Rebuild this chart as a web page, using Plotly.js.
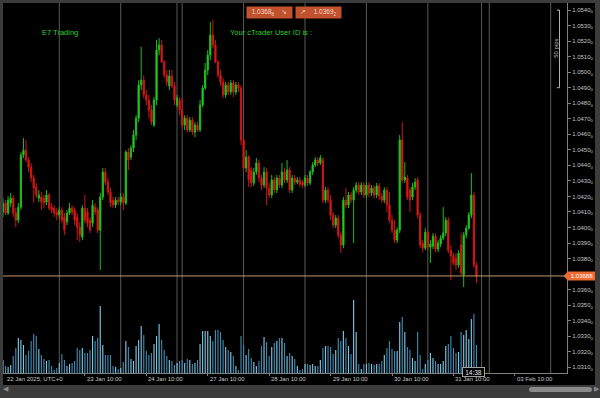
<!DOCTYPE html>
<html><head><meta charset="utf-8">
<script src="https://cdn.plot.ly/plotly-3.0.1.min.js"></script>
<style>
html,body{margin:0;padding:0;background:#3c3c3c;width:600px;height:398px;overflow:hidden;font-family:"Liberation Sans",Arial,sans-serif;}
#frame{position:absolute;left:3px;top:3px;width:592px;height:382px;background:#000;}
#chart{position:absolute;left:0;top:0;width:592px;height:382px;}
#scroll{position:absolute;left:529px;top:387px;width:63px;height:5px;background:#8a8a8a;border-radius:3px;}
.arr{position:absolute;top:385px;color:#8a8a8a;font-size:7px;}
</style></head><body>
<div id="frame"><div id="chart"></div></div>
<div id="scroll"></div>
<div class="arr" style="left:3px;">&#9664;</div>
<div class="arr" style="left:594px;">&#9654;</div>
<script>
// EURUSD-style hourly bars, 22 Jan 02:00 -> 31 Jan (weekend removed); x = trading-hour index from 22 Jan 00:00
const open = [
 1.04099,1.04157,1.04093,1.04157,1.04189,1.04093,1.04047,1.04131,1.04466,1.04498,1.04434,1.04389,1.04318,1.04260,1.04189,1.04196,1.04189,1.04164,1.04209,1.04131,1.04125,1.04099,
 1.04080,1.04112,1.04067,1.04035,1.04093,1.04125,1.04112,1.04067,1.04002,1.03938,1.04125,1.04099,1.04047,1.04028,1.04131,1.04112,1.03983,1.04196,1.04357,1.04292,1.04228,1.04176,1.04144,1.04176,
 1.04164,1.04196,1.04157,1.04485,1.04453,1.04511,1.04595,1.04704,1.04917,1.04949,1.04853,1.04820,1.04756,1.04659,1.04820,1.05142,1.05175,1.05065,1.04981,1.04911,1.04975,1.04911,
 1.04788,1.04820,1.04756,1.04659,1.04704,1.04627,1.04691,1.04614,1.04659,1.04627,1.04788,1.04898,1.05014,1.05110,1.05239,1.05175,1.05065,1.04981,1.04936,1.04853,1.04917,1.04872,1.04930,1.04872,1.04917,1.04898,
 1.04563,1.04383,1.04453,1.04370,1.04286,1.04357,1.04415,1.04318,1.04273,1.04357,1.04254,1.04209,1.04305,1.04241,1.04318,1.04273,1.04357,1.04305,1.04370,1.04241,1.04318,1.04292,1.04305,1.04292,
 1.04273,1.04318,1.04286,1.04357,1.04402,1.04434,1.04415,1.04434,1.04176,1.04241,1.04176,1.04080,1.04015,1.04060,1.03951,1.03887,1.04176,1.04144,1.04209,1.04176,1.04241,1.04273,1.04228,1.04273,
 1.04209,1.04273,1.04222,1.04254,1.04209,1.04267,1.04202,1.04176,1.04241,1.04144,1.04047,1.03983,1.03919,1.03983,1.04563,1.04305,1.04318,1.04241,1.04196,1.04260,1.04305,1.04080,1.03899,1.03867,
 1.03970,1.03874,1.03880,1.03944,1.03861,1.03893,1.03932,1.03964,1.04047,1.03854,1.03816,1.03803,1.03758,1.03887,1.03694,1.03951,1.03996,1.04080,1.04209,1.03758
];
const high = [
 1.04189,1.04176,1.04202,1.04222,1.04209,1.04125,1.04157,1.04485,1.04575,1.04563,1.04453,1.04415,1.04338,1.04286,1.04241,1.04228,1.04209,1.04241,1.04222,1.04157,1.04144,1.04125,
 1.04131,1.04131,1.04093,1.04112,1.04157,1.04144,1.04131,1.04093,1.04035,1.04144,1.04209,1.04125,1.04067,1.04176,1.04157,1.04131,1.04222,1.04383,1.04383,1.04318,1.04254,1.04196,1.04196,1.04196,
 1.04222,1.04222,1.04498,1.04511,1.04530,1.04627,1.04723,1.04949,1.05162,1.04981,1.04885,1.04853,1.04788,1.04840,1.05207,1.05220,1.05207,1.05078,1.05014,1.05014,1.05014,1.04936,
 1.04853,1.04840,1.04833,1.04723,1.04723,1.04711,1.04711,1.04678,1.04678,1.04820,1.04917,1.05059,1.05142,1.05323,1.05336,1.05207,1.05078,1.05014,1.04962,1.04936,1.04936,1.04949,1.04949,1.04936,1.04936,1.04917,
 1.04582,1.04498,1.04466,1.04389,1.04383,1.04447,1.04434,1.04338,1.04389,1.04383,1.04286,1.04338,1.04325,1.04338,1.04338,1.04415,1.04383,1.04434,1.04389,1.04338,1.04338,1.04325,1.04325,1.04305,
 1.04338,1.04338,1.04370,1.04421,1.04453,1.04453,1.04466,1.04453,1.04260,1.04260,1.04209,1.04099,1.04080,1.04080,1.03970,1.04196,1.04254,1.04228,1.04228,1.04260,1.04292,1.04292,1.04292,1.04292,
 1.04292,1.04292,1.04273,1.04273,1.04286,1.04286,1.04222,1.04260,1.04260,1.04228,1.04080,1.04047,1.04002,1.04595,1.04678,1.04421,1.04338,1.04260,1.04286,1.04318,1.04325,1.04099,1.03919,1.03996,
 1.03983,1.03919,1.03964,1.03964,1.03919,1.03951,1.04131,1.04067,1.04067,1.03887,1.03835,1.03835,1.03854,1.03964,1.03970,1.04015,1.04099,1.04350,1.04228,1.03777
];
const low = [
 1.04067,1.04080,1.04080,1.04131,1.04067,1.04002,1.04028,1.04112,1.04447,1.04421,1.04357,1.04292,1.04157,1.04189,1.04164,1.04112,1.04125,1.04144,1.04112,1.04093,1.04067,1.04047,
 1.04060,1.04028,1.03951,1.04015,1.04080,1.04080,1.04015,1.03919,1.03906,1.03919,1.04028,1.04002,1.03964,1.04002,1.04080,1.03964,1.03726,1.04176,1.04273,1.04209,1.04131,1.04125,1.04125,1.04144,
 1.04144,1.04112,1.04144,1.04370,1.04434,1.04485,1.04563,1.04678,1.04885,1.04833,1.04788,1.04704,1.04659,1.04646,1.04788,1.05110,1.05059,1.04962,1.04911,1.04885,1.04898,1.04788,
 1.04775,1.04723,1.04646,1.04627,1.04614,1.04614,1.04595,1.04582,1.04614,1.04614,1.04775,1.04885,1.04981,1.05078,1.05155,1.05059,1.04962,1.04911,1.04833,1.04833,1.04853,1.04853,1.04840,1.04853,1.04872,1.04530,
 1.04357,1.04357,1.04260,1.04260,1.04267,1.04338,1.04292,1.04241,1.04254,1.04144,1.04189,1.04189,1.04222,1.04222,1.04254,1.04254,1.04286,1.04286,1.04222,1.04222,1.04273,1.04279,1.04260,1.04254,
 1.04260,1.04267,1.04273,1.04338,1.04389,1.04395,1.04402,1.04157,1.04157,1.04157,1.04047,1.03996,1.03996,1.03932,1.03835,1.03867,1.04125,1.04125,1.04157,1.03899,1.04222,1.04209,1.04209,1.04189,
 1.04189,1.04196,1.04202,1.04189,1.04189,1.04176,1.04157,1.04157,1.04099,1.04028,1.03964,1.03899,1.03899,1.03964,1.04286,1.04286,1.04176,1.04099,1.04176,1.04241,1.04060,1.03867,1.03841,1.03854,
 1.03854,1.03771,1.03861,1.03841,1.03841,1.03874,1.03919,1.03944,1.03835,1.03661,1.03758,1.03726,1.03739,1.03694,1.03616,1.03932,1.03983,1.04060,1.03739,1.03642
];
const close = [
 1.04157,1.04093,1.04176,1.04189,1.04093,1.04047,1.04131,1.04466,1.04498,1.04434,1.04389,1.04318,1.04254,1.04209,1.04209,1.04164,1.04157,1.04209,1.04125,1.04112,1.04093,1.04080,
 1.04112,1.04047,1.03983,1.04093,1.04125,1.04099,1.04047,1.04002,1.03951,1.04125,1.04047,1.04028,1.03983,1.04144,1.04099,1.03983,1.04196,1.04357,1.04292,1.04228,1.04157,1.04144,1.04176,1.04164,
 1.04196,1.04157,1.04485,1.04434,1.04511,1.04595,1.04704,1.04917,1.04949,1.04853,1.04820,1.04756,1.04678,1.04820,1.05142,1.05175,1.05065,1.04981,1.04936,1.04975,1.04911,1.04820,
 1.04833,1.04756,1.04659,1.04704,1.04627,1.04691,1.04614,1.04659,1.04627,1.04788,1.04898,1.05014,1.05110,1.05239,1.05175,1.05065,1.04981,1.04936,1.04853,1.04917,1.04872,1.04930,1.04872,1.04917,1.04898,1.04563,
 1.04383,1.04453,1.04305,1.04286,1.04357,1.04415,1.04318,1.04273,1.04357,1.04254,1.04209,1.04305,1.04241,1.04318,1.04273,1.04357,1.04305,1.04370,1.04241,1.04318,1.04292,1.04305,1.04279,1.04273,
 1.04318,1.04286,1.04357,1.04402,1.04434,1.04415,1.04447,1.04176,1.04241,1.04176,1.04080,1.04015,1.04060,1.03951,1.03887,1.04176,1.04144,1.04209,1.04176,1.04241,1.04273,1.04228,1.04273,1.04209,
 1.04273,1.04222,1.04254,1.04209,1.04267,1.04202,1.04176,1.04241,1.04144,1.04047,1.03983,1.03919,1.03983,1.04563,1.04305,1.04325,1.04196,1.04176,1.04260,1.04292,1.04080,1.03887,1.03867,1.03970,
 1.03874,1.03893,1.03944,1.03861,1.03899,1.03932,1.03964,1.04047,1.03854,1.03816,1.03771,1.03758,1.03835,1.03706,1.03951,1.03996,1.04080,1.04209,1.03758,1.03688
];
const volume = [
 13,7,6,8,17,25,35,33,28,18,22,32,39,37,24,18,14,12,13,7,3,5,
 10,19,13,7,9,10,12,25,23,25,20,20,23,37,32,35,67,28,18,18,18,7,6,4,
 5,11,32,26,14,12,27,33,47,38,22,18,20,29,37,49,33,23,17,13,12,8,
 10,12,13,10,14,13,9,10,13,29,42,42,42,37,32,43,43,41,33,26,23,21,17,7,3,37,
 28,18,24,15,11,7,12,27,36,31,17,26,30,32,35,35,30,17,20,17,14,7,3,4,
 9,9,8,9,7,7,13,25,27,27,26,19,23,35,32,42,35,27,19,73,41,9,4,9,
 9,10,9,8,9,9,12,18,25,32,24,22,22,51,56,41,26,23,15,12,41,18,4,9,
 13,20,15,12,9,9,12,27,29,37,25,20,21,41,38,43,34,54,59,28
];
const firstBar = 2;                       // 22 Jan 02:00
const barIndex = open.map((_, k) => k + firstBar);
const lastPrice = 1.03688;
const bidAsk = ['1.0368', '8', '1.0369', '2'];

// 1.0370 sits under the current-price label in the reference, so it is not listed
const priceTicks = [1.0310,1.0320,1.0330,1.0340,1.0350,1.0360,1.0380,1.0390,1.0400,1.0410,1.0420,
                    1.0430,1.0440,1.0450,1.0460,1.0470,1.0480,1.0490,1.0500,1.0510,1.0520,1.0530,1.0540];
const timeTickPos = [34, 58, 82, 106, 130, 154, 178, 202];
const timeTickLabels = ['23 Jan 10:00','24 Jan 10:00','27 Jan 10:00','28 Jan 10:00','29 Jan 10:00','30 Jan 10:00','31 Jan 10:00','03 Feb 10:00'];
const daySeparators = [24, 48, 70, 72, 96, 120, 144, 168, 189, 192, 216];

const FONT = '"Liberation Sans", Arial, sans-serif';
const volColors = close.map((c, k) => c >= open[k] ? '#7cc4e2' : '#3f88ae');

const traces = [
  {type:'bar', x: barIndex, y: volume, yaxis:'y2', width:0.45,
   marker:{color: volColors, line:{width:0}}, hoverinfo:'skip'},
  {type:'candlestick', x: barIndex, open: open, high: high, low: low, close: close,
   increasing:{line:{color:'#1dbb1d', width:1}, fillcolor:'#2ae02a'},
   decreasing:{line:{color:'#cc1616', width:1}, fillcolor:'#e81e1e'},
   whiskerwidth:0, hoverinfo:'skip'}
];

const shapes = daySeparators.map(d => ({type:'line', xref:'x', yref:'paper', x0:d, x1:d, y0:0, y1:1,
  line:{color:'#5a5a5a', width:1}, layer:'below'}));
shapes.push({type:'line', xref:'paper', yref:'y', x0:0, x1:1, y0:lastPrice, y1:lastPrice, line:{color:'#c49a6c', width:1}});
// pips ruler
shapes.push({type:'line', xref:'paper', yref:'y', x0:0.9867, x1:0.9867, y0:1.0490, y1:1.0540, line:{color:'#b5b5b5', width:1}});
shapes.push({type:'line', xref:'paper', yref:'y', x0:0.9820, x1:0.9867, y0:1.0540, y1:1.0540, line:{color:'#b5b5b5', width:1}});
shapes.push({type:'line', xref:'paper', yref:'y', x0:0.9820, x1:0.9867, y0:1.0490, y1:1.0490, line:{color:'#b5b5b5', width:1}});
// price-label pointer
shapes.push({type:'path', xref:'paper', yref:'y', path:'M 0.9938 ' + lastPrice + ' L 1.0005 ' + (lastPrice+0.00026) + ' L 1.0005 ' + (lastPrice-0.00026) + ' Z',
  fillcolor:'#f06a34', line:{width:0}});

const annotations = [];
annotations.push({xref:'paper', yref:'paper', x:0.0035, y:-0.017, xanchor:'left', yanchor:'middle', showarrow:false,
  text:'22 Jan 2025, UTC+0', font:{family:FONT, size:6, color:'#c4c4c4'}});
timeTickPos.forEach((p, k) => annotations.push({xref:'x', yref:'paper', x:p, y:-0.017, xanchor:'left', yanchor:'middle',
  showarrow:false, text: timeTickLabels[k], font:{family:FONT, size:6, color:'#c4c4c4'}}));
annotations.push({xref:'paper', yref:'paper', x:0.1011, y:0.9216, xanchor:'center', yanchor:'middle', showarrow:false,
  text:'E7 Trading', font:{family:FONT, size:7.5, color:'#2fcf2f'}});
annotations.push({xref:'paper', yref:'paper', x:0.3989, y:0.9216, xanchor:'left', yanchor:'middle', showarrow:false,
  text:'Your cTrader User ID is :', font:{family:FONT, size:7.5, color:'#2fcf2f'}});
annotations.push({xref:'paper', yref:'paper', x:0.4734, y:0.9735, xanchor:'center', yanchor:'middle', showarrow:false,
  width:42, height:8, borderpad:1.5, bgcolor:'#c2512d',
  text: bidAsk[0] + '<sub>' + bidAsk[1] + '</sub>\u00a0\u00a0\u00a0\u00a0↘', font:{family:FONT, size:6.5, color:'#f3d6c8'}});
annotations.push({xref:'paper', yref:'paper', x:0.5592, y:0.9735, xanchor:'center', yanchor:'middle', showarrow:false,
  width:42, height:8, borderpad:1.5, bgcolor:'#c2512d',
  text:'↗\u00a0\u00a0\u00a0\u00a0' + bidAsk[2] + '<sub>' + bidAsk[3] + '</sub>', font:{family:FONT, size:6.5, color:'#f3d6c8'}});
annotations.push({xref:'paper', yref:'y', x:0.9805, y:1.0515, xanchor:'center', yanchor:'middle', showarrow:false,
  textangle:-90, text:'50 pips', font:{family:FONT, size:6, color:'#bdbdbd'}});
annotations.push({xref:'paper', yref:'y', x:1.0, y:lastPrice, xanchor:'left', yanchor:'middle', showarrow:false,
  xshift:0, width:27, height:7, borderpad:0.5, bgcolor:'#f06a34',
  text: lastPrice.toFixed(5), font:{family:FONT, size:6, color:'#ffffff'}});
annotations.push({xref:'paper', yref:'paper', x:0.8351, y:0.0014, xanchor:'center', yanchor:'middle', showarrow:false,
  width:20, height:7, borderpad:0.5, bgcolor:'#000000', bordercolor:'#a0a0a0', borderwidth:1,
  text:'14:38', font:{family:FONT, size:6.5, color:'#e8e8e8'}});

const layout = {
  width:592, height:382, margin:{l:0, r:28, t:0, b:12, pad:0},
  paper_bgcolor:'#000000', plot_bgcolor:'#000000', showlegend:false, hovermode:false, dragmode:false,
  xaxis:{range:[2.003, 222.37], tickvals: timeTickPos, showticklabels:false, ticks:'outside', ticklen:2,
    tickcolor:'#808080', showline:true, linecolor:'#808080', linewidth:1, showgrid:false, zeroline:false,
    rangeslider:{visible:false}, fixedrange:true},
  yaxis:{range:[1.030633, 1.054451], side:'right', tickvals: priceTicks,
    ticktext: priceTicks.map(v => v.toFixed(4) + '<sub>0</sub>'),
    tickfont:{family:FONT, size:6, color:'#c4c4c4'}, ticks:'outside', ticklen:3, tickcolor:'#808080',
    showline:true, linecolor:'#808080', linewidth:1, showgrid:false, zeroline:false, fixedrange:true, automargin:false},
  yaxis2:{overlaying:'y', range:[0, 370], visible:false, fixedrange:true},
  shapes: shapes, annotations: annotations
};
Plotly.newPlot('chart', traces, layout, {staticPlot:true, displayModeBar:false});
</script>
</body></html>
